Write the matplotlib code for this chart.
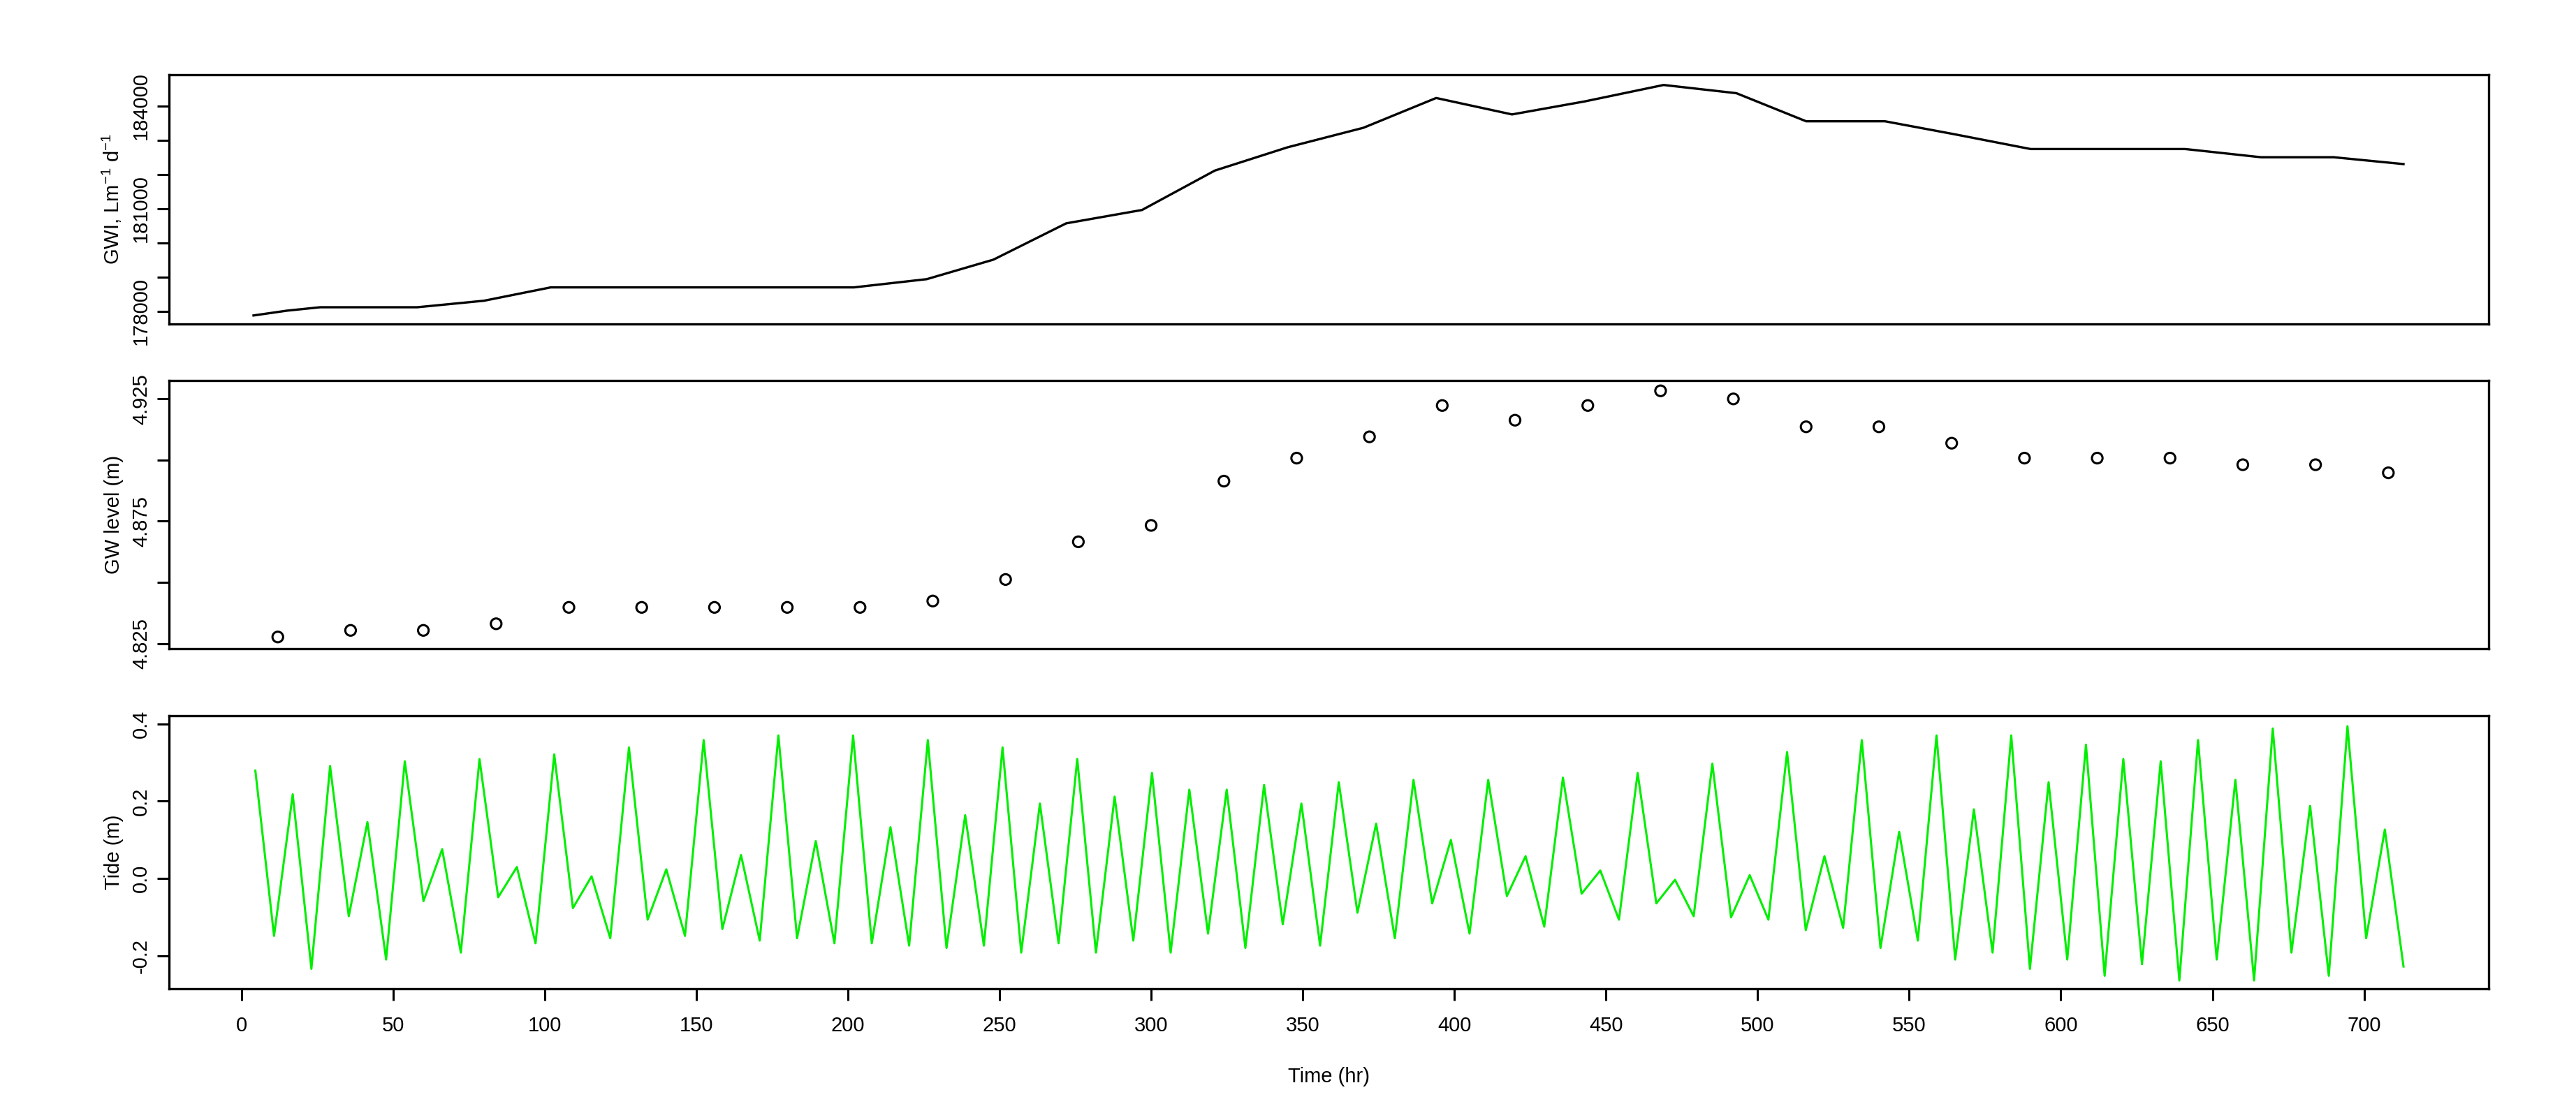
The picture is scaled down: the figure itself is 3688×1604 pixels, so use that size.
import matplotlib
matplotlib.use("Agg")
import matplotlib.pyplot as plt
import numpy as np

plt.rcParams['font.family'] = ['Liberation Sans', 'DejaVu Sans']
plt.rcParams['font.size'] = 10.5

# GWI (top line)
gwi_t = [4, 15, 26, 58, 80, 102, 202, 226, 248, 272, 297, 321, 345, 370, 394, 419,
         443, 469, 493, 516, 542, 565, 590, 641, 666, 690, 713]
gwi = [177880, 178020, 178120, 178120, 178310, 178700, 178700, 178940, 179510, 180570,
       180960, 182110, 182790, 183360, 184230, 183750, 184130, 184610, 184370, 183550,
       183550, 183170, 182740, 182740, 182500, 182500, 182300]

# groundwater level (points every 24 hr)
gwl_t = np.arange(12, 720, 24)
gwl = [4.8277, 4.8304, 4.8304, 4.8331, 4.8398, 4.8398, 4.8398, 4.8398, 4.8398, 4.8424,
       4.8512, 4.8666, 4.8733, 4.8914, 4.9008, 4.9095, 4.9223, 4.9163, 4.9223, 4.9283,
       4.9250, 4.9136, 4.9136, 4.9069, 4.9008, 4.9008, 4.9008, 4.8981, 4.8981, 4.8948]

# tide
tide = [0.279, -0.148, 0.218, -0.233, 0.291, -0.097, 0.146, -0.209, 0.303, -0.058,
        0.076, -0.191, 0.309, -0.048, 0.030, -0.167, 0.321, -0.076, 0.006, -0.154,
        0.339, -0.106, 0.024, -0.148, 0.358, -0.130, 0.061, -0.160, 0.370, -0.154,
        0.097, -0.167, 0.370, -0.167, 0.133, -0.173, 0.358, -0.179, 0.164, -0.173,
        0.339, -0.191, 0.194, -0.167, 0.309, -0.191, 0.212, -0.160, 0.273, -0.191,
        0.230, -0.142, 0.230, -0.179, 0.242, -0.118, 0.194, -0.173, 0.249, -0.088,
        0.142, -0.154, 0.255, -0.064, 0.100, -0.142, 0.255, -0.045, 0.058, -0.124,
        0.261, -0.039, 0.021, -0.106, 0.273, -0.064, -0.003, -0.097, 0.297, -0.100,
        0.009, -0.106, 0.327, -0.133, 0.058, -0.127, 0.358, -0.179, 0.121, -0.160,
        0.370, -0.209, 0.179, -0.191, 0.370, -0.233, 0.249, -0.209, 0.346, -0.251,
        0.309, -0.221, 0.303, -0.263, 0.358, -0.209, 0.255, -0.263, 0.388, -0.191,
        0.188, -0.251, 0.394, -0.154, 0.127, -0.227]
tide_t = np.linspace(4.6, 713, len(tide))

fig = plt.figure(figsize=(18.44, 8.02), dpi=200)
L, W = 0.0657, 0.9003
ax1 = fig.add_axes([L, 0.711, W, 0.222])
ax2 = fig.add_axes([L, 0.421, W, 0.239])
ax3 = fig.add_axes([L, 0.117, W, 0.244])

for ax in (ax1, ax2, ax3):
    ax.set_xlim(-23.8, 741)
    for s in ax.spines.values():
        s.set_linewidth(1.2)
    ax.tick_params(axis='y', labelrotation=90, length=6, width=1.1)

ax1.plot(gwi_t, gwi, color='black', lw=1.2)
ax1.set_ylim(177640, 184900)
ax1.set_yticks(np.arange(178000, 184001, 1000))
ax1.set_yticklabels(['178000', '', '', '181000', '', '', '184000'], va='center')
ax1.set_ylabel('GWI, Lm$^{\\mathregular{-1}}$ d$^{\\mathregular{-1}}$')
ax1.set_xticks([])

ax2.scatter(gwl_t, gwl, s=30, facecolors='none', edgecolors='black', linewidths=1.1)
ax2.set_ylim(4.8230, 4.9324)
ax2.set_yticks([4.825, 4.85, 4.875, 4.9, 4.925])
ax2.set_yticklabels(['4.825', '', '4.875', '', '4.925'], va='center')
ax2.set_ylabel('GW level (m)')
ax2.set_xticks([])

ax3.plot(tide_t, tide, color='#00ee00', lw=1.1)
ax3.set_ylim(-0.285, 0.421)
ax3.set_yticks([-0.2, 0.0, 0.2, 0.4])
ax3.set_yticklabels(['-0.2', '0.0', '0.2', '0.4'], va='center')
ax3.set_ylabel('Tide (m)')
ax3.set_xticks(np.arange(0, 701, 50))
ax3.tick_params(axis='x', length=6, width=1.1, pad=8)
ax3.set_xlabel('Time (hr)', labelpad=16)

fig.savefig('out.png', dpi=200, facecolor='white')
